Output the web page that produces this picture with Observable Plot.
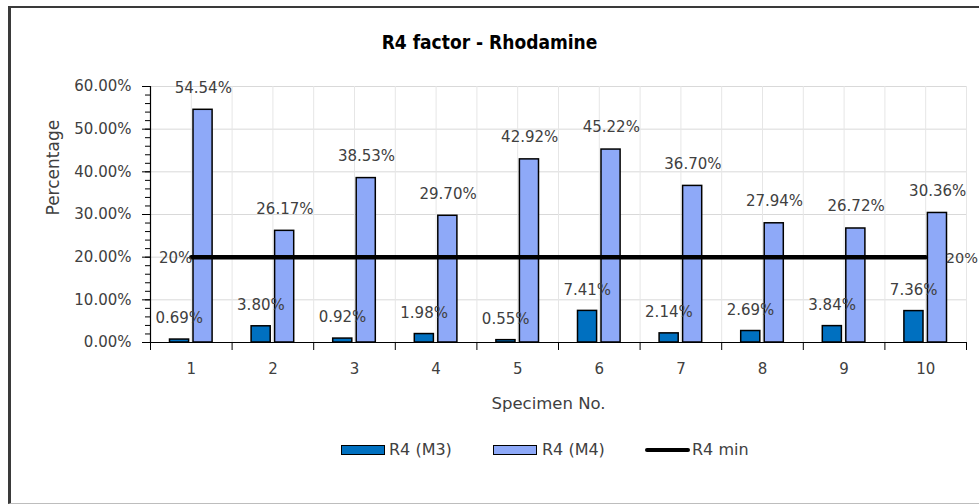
<!DOCTYPE html>
<html>
<head>
<meta charset="utf-8">
<script src="https://cdn.jsdelivr.net/npm/d3@7"></script>
<script src="https://cdn.jsdelivr.net/npm/@observablehq/plot@0.6"></script>
<style>
  html, body { margin: 0; padding: 0; background: #fff; width: 979px; height: 504px; overflow: hidden; }
  #frame { position: absolute; left: 8px; top: 6px; width: 1000px; height: 495px;
           border-left: 3px solid #3a3a3a; border-top: 2px solid #3a3a3a; border-bottom: 1px solid #bdbdbd; }
  #title { position: absolute; left: 0; width: 979px; top: 31px; text-align: center;
           font-family: "Liberation Sans Narrow", "DejaVu Sans Condensed", "Liberation Sans", sans-serif;
           font-weight: bold; font-size: 19px; color: #000; }
  #chart { position: absolute; left: 0; top: 60px; }
  .leg { position: absolute; top: 440px; font-family: "DejaVu Sans", sans-serif; font-size: 16px; color: #404040; }
  .sw { position: absolute; width: 42px; height: 8px; border: 1px solid #000; }
  .ln { position: absolute; width: 45px; height: 4px; background: #000; border-radius: 2px; }
</style>
</head>
<body>
<div id="frame"></div>
<div id="title">R4 factor - Rhodamine</div>
<div id="chart"></div>
<div class="leg">
  <div class="sw" style="left:341px; top:5px; background:#0070C0"></div>
  <div style="position:absolute; left:389px; top:0; white-space:nowrap">R4 (M3)</div>
  <div class="sw" style="left:493px; top:5px; background:#8EA9F8"></div>
  <div style="position:absolute; left:542px; top:0; white-space:nowrap">R4 (M4)</div>
  <div class="ln" style="left:645px; top:8px"></div>
  <div style="position:absolute; left:692px; top:0; white-space:nowrap">R4 min</div>
</div>
<script>
const specimens = [1, 2, 3, 4, 5, 6, 7, 8, 9, 10];
const r4M3 = [0.69, 3.80, 0.92, 1.98, 0.55, 7.41, 2.14, 2.69, 3.84, 7.36];
const r4M4 = [54.54, 26.17, 38.53, 29.70, 42.92, 45.22, 36.70, 27.94, 26.72, 30.36];
const r4Min = [20, 20, 20, 20, 20, 20, 20, 20, 20, 20];
const yTicks = [0, 10, 20, 30, 40, 50, 60];
const yMinorTicks = d3.range(0, 61, 2);

const m3 = specimens.map((s, i) => ({s, v: r4M3[i]}));
const m4 = specimens.map((s, i) => ({s, v: r4M4[i]}));
const mn = specimens.map((s, i) => ({s, v: r4Min[i]}));
const boundaries = [specimens[0] - 0.5, ...specimens.map(s => s + 0.5)];
const xGrid = [...boundaries, ...specimens];
const pct = d => d.toFixed(2) + "%";

const chart = Plot.plot({
  width: 979,
  height: 360,
  marginLeft: 150,
  marginRight: 13,
  marginTop: 26,
  marginBottom: 78,
  x: {type: "linear", domain: [0.5, 10.5]},
  y: {domain: [0, 60]},
  style: {fontFamily: "DejaVu Sans, sans-serif", fontSize: "15px", color: "#404040", background: "transparent"},
  marks: [
    Plot.gridY(yTicks, {stroke: "#d9d9d9", strokeOpacity: 1}),
    Plot.gridX(xGrid, {stroke: "#e6e6e6", strokeOpacity: 1}),
    Plot.rectY(m3, {x1: d => d.s - 0.5, x2: d => d.s + 0.5, y1: 0, y2: "v", insetLeft: 19.5, insetRight: 43,
      fill: "#0070C0", stroke: "#000", strokeWidth: 1.5}),
    Plot.rectY(m4, {x1: d => d.s - 0.5, x2: d => d.s + 0.5, y1: 0, y2: "v", insetLeft: 43, insetRight: 19.5,
      fill: "#8EA9F8", stroke: "#000", strokeWidth: 1.5}),
    Plot.lineY(mn, {x: "s", y: "v", stroke: "#000", strokeWidth: 4.5}),
    Plot.ruleY([0], {stroke: "#000", strokeWidth: 1.2}),
    Plot.ruleX([0.5], {y1: 0, y2: 60, stroke: "#000", strokeWidth: 1.2}),
    Plot.axisY(yMinorTicks, {tickSize: 5, tickFormat: () => "", stroke: "#000", label: null}),
    Plot.axisY(yTicks, {tickSize: 8, tickPadding: 11, tickFormat: pct, stroke: "#000", fill: "#404040", label: null}),
    Plot.axisX(boundaries, {tickSize: 8, tickFormat: () => "", stroke: "#000", label: null}),
    Plot.axisX(specimens, {tickSize: 0, tickPadding: 21, tickFormat: d => String(d), fill: "#404040", label: null}),
    Plot.text(m3, {x: "s", y: "v", text: d => pct(d.v), dx: -12, dy: -21, fill: "#404040"}),
    Plot.text(m4, {x: "s", y: "v", text: d => pct(d.v), dx: 12, dy: -22, fill: "#404040"}),
    Plot.text([mn[0]], {x: "s", y: "v", text: d => d.v + "%", textAnchor: "end", dx: 1, dy: 1, fill: "#404040"}),
    Plot.text([mn[mn.length - 1]], {x: "s", y: "v", text: d => d.v + "%", textAnchor: "start", dx: 20, dy: 1, fontSize: 14.5, fill: "#404040"}),
    Plot.text(["Specimen No."], {frameAnchor: "bottom", dx: -10, dy: 66, fontSize: 16.5, fill: "#404040"}),
    Plot.text(["Percentage"], {frameAnchor: "left", rotate: -90, dx: -97, dy: 1, fontSize: 17, fill: "#404040"})
  ]
});
document.getElementById("chart").appendChild(chart);
</script>
</body>
</html>
